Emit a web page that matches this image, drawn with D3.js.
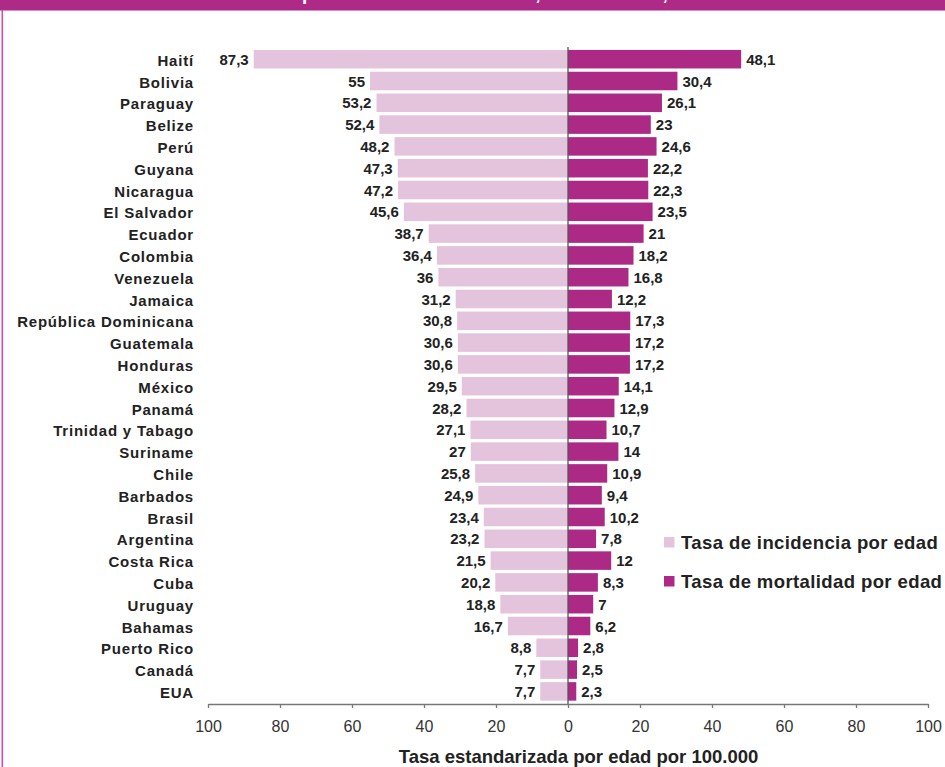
<!DOCTYPE html>
<html>
<head>
<meta charset="utf-8">
<script src="https://cdn.jsdelivr.net/npm/d3@7"></script>
<style>
  html, body { margin: 0; padding: 0; background: #fff; }
  svg { display: block; font-family: "Liberation Sans", Arial, sans-serif; }
</style>
</head>
<body>
<svg id="chart" width="945" height="767"></svg>
<script>
const countries = ["Haití","Bolivia","Paraguay","Belize","Perú","Guyana","Nicaragua","El Salvador","Ecuador","Colombia","Venezuela","Jamaica","República Dominicana","Guatemala","Honduras","México","Panamá","Trinidad y Tabago","Suriname","Chile","Barbados","Brasil","Argentina","Costa Rica","Cuba","Uruguay","Bahamas","Puerto Rico","Canadá","EUA"];
const incidence = [87.3,55,53.2,52.4,48.2,47.3,47.2,45.6,38.7,36.4,36,31.2,30.8,30.6,30.6,29.5,28.2,27.1,27,25.8,24.9,23.4,23.2,21.5,20.2,18.8,16.7,8.8,7.7,7.7];
const mortality = [48.1,30.4,26.1,23,24.6,22.2,22.3,23.5,21,18.2,16.8,12.2,17.3,17.2,17.2,14.1,12.9,10.7,14,10.9,9.4,10.2,7.8,12,8.3,7,6.2,2.8,2.5,2.3];
const tickValues = [-100,-80,-60,-40,-20,0,20,40,60,80,100];
const seriesNames = ["Tasa de incidencia por edad","Tasa de mortalidad por edad"];
const axisTitle = "Tasa estandarizada por edad por 100.000";
const titleText = "por cáncer cervicouterino, las Américas, 2008";

const colLight = "#E4C4DC", colDark = "#AC2A86";
const svg = d3.select("#chart");

// banner and frame
svg.append("rect").attr("x",0).attr("y",0).attr("width",945).attr("height",10).attr("fill","#AD2A87");
svg.append("rect").attr("x",0).attr("y",10).attr("width",945).attr("height",1).attr("fill","#D98CC6");
svg.append("rect").attr("x",1.5).attr("y",10).attr("width",1.6).attr("height",757).attr("fill","#D24DB0");
svg.append("text").attr("x",302).attr("y",-0.5).attr("fill","#fff")
  .attr("font-size",19).attr("font-weight","bold").text(titleText);

const x = d3.scaleLinear().domain([-100,100]).range([208,928]);
const y = d3.scaleBand().domain(countries).range([48.3, 702.3]).paddingInner(0.15).paddingOuter(0.075);

const g = svg.append("g");
const rows = countries.map((c,i)=>({c, inc: incidence[i], mort: mortality[i]}));
const fmt = v => String(v).replace(".", ",");

// incidence bars (left)
g.selectAll(".inc").data(rows).join("rect")
  .attr("x", d => x(-d.inc)).attr("y", d => y(d.c))
  .attr("width", d => x(0) - x(-d.inc)).attr("height", y.bandwidth())
  .attr("fill", colLight);
// mortality bars (right)
g.selectAll(".mort").data(rows).join("rect")
  .attr("x", x(0)).attr("y", d => y(d.c))
  .attr("width", d => x(d.mort) - x(0)).attr("height", y.bandwidth())
  .attr("fill", colDark);

// value labels
g.selectAll(".incl").data(rows).join("text")
  .attr("x", d => x(-d.inc) - 5).attr("y", d => y(d.c) + y.bandwidth()/2 + 5.5)
  .attr("text-anchor","end").attr("font-size",15).attr("font-weight","bold").attr("fill","#222")
  .text(d => fmt(d.inc));
g.selectAll(".mortl").data(rows).join("text")
  .attr("x", d => x(d.mort) + 5).attr("y", d => y(d.c) + y.bandwidth()/2 + 5.5)
  .attr("text-anchor","start").attr("font-size",15).attr("font-weight","bold").attr("fill","#222")
  .text(d => fmt(d.mort));

// country labels
g.selectAll(".cl").data(rows).join("text")
  .attr("x", 194).attr("y", d => y(d.c) + y.bandwidth()/2 + 6.5)
  .attr("text-anchor","end").attr("font-size",15).attr("font-weight","bold")
  .attr("letter-spacing","0.8px").attr("fill","#222")
  .text(d => d.c);

// center line
svg.append("line").attr("x1", x(0)).attr("x2", x(0)).attr("y1", 47).attr("y2", 704)
  .attr("stroke","#555").attr("stroke-width",1.3);

// x axis
const axis = d3.axisBottom(x).tickValues(tickValues).tickFormat(d => Math.abs(d))
  .tickSize(4).tickSizeOuter(0).tickPadding(12.6);
const ax = svg.append("g").attr("transform","translate(0,704)").call(axis);
ax.select(".domain").attr("stroke","#777").attr("stroke-width",1.3);
ax.selectAll(".tick line").attr("stroke","#777").attr("stroke-width",1.3);
ax.selectAll(".tick text").attr("font-size",16).attr("fill","#333")
  .attr("font-family","'Liberation Sans', Arial, sans-serif");

// axis title
svg.append("text").attr("x",578.5).attr("y",762.5).attr("text-anchor","middle")
  .attr("font-size",18.5).attr("font-weight","bold").attr("fill","#222").text(axisTitle);

// legend
const leg = svg.append("g");
[colLight, colDark].forEach((c,i) => {
  const yy = [537, 576][i];
  leg.append("rect").attr("x",664).attr("y",yy).attr("width",10.5).attr("height",10.5).attr("fill",c);
  leg.append("text").attr("x",681).attr("y",yy + 11.5).attr("font-size",18.5).attr("font-weight","bold")
    .attr("letter-spacing","0.4px").attr("fill","#222").text(seriesNames[i]);
});
</script>
</body>
</html>
